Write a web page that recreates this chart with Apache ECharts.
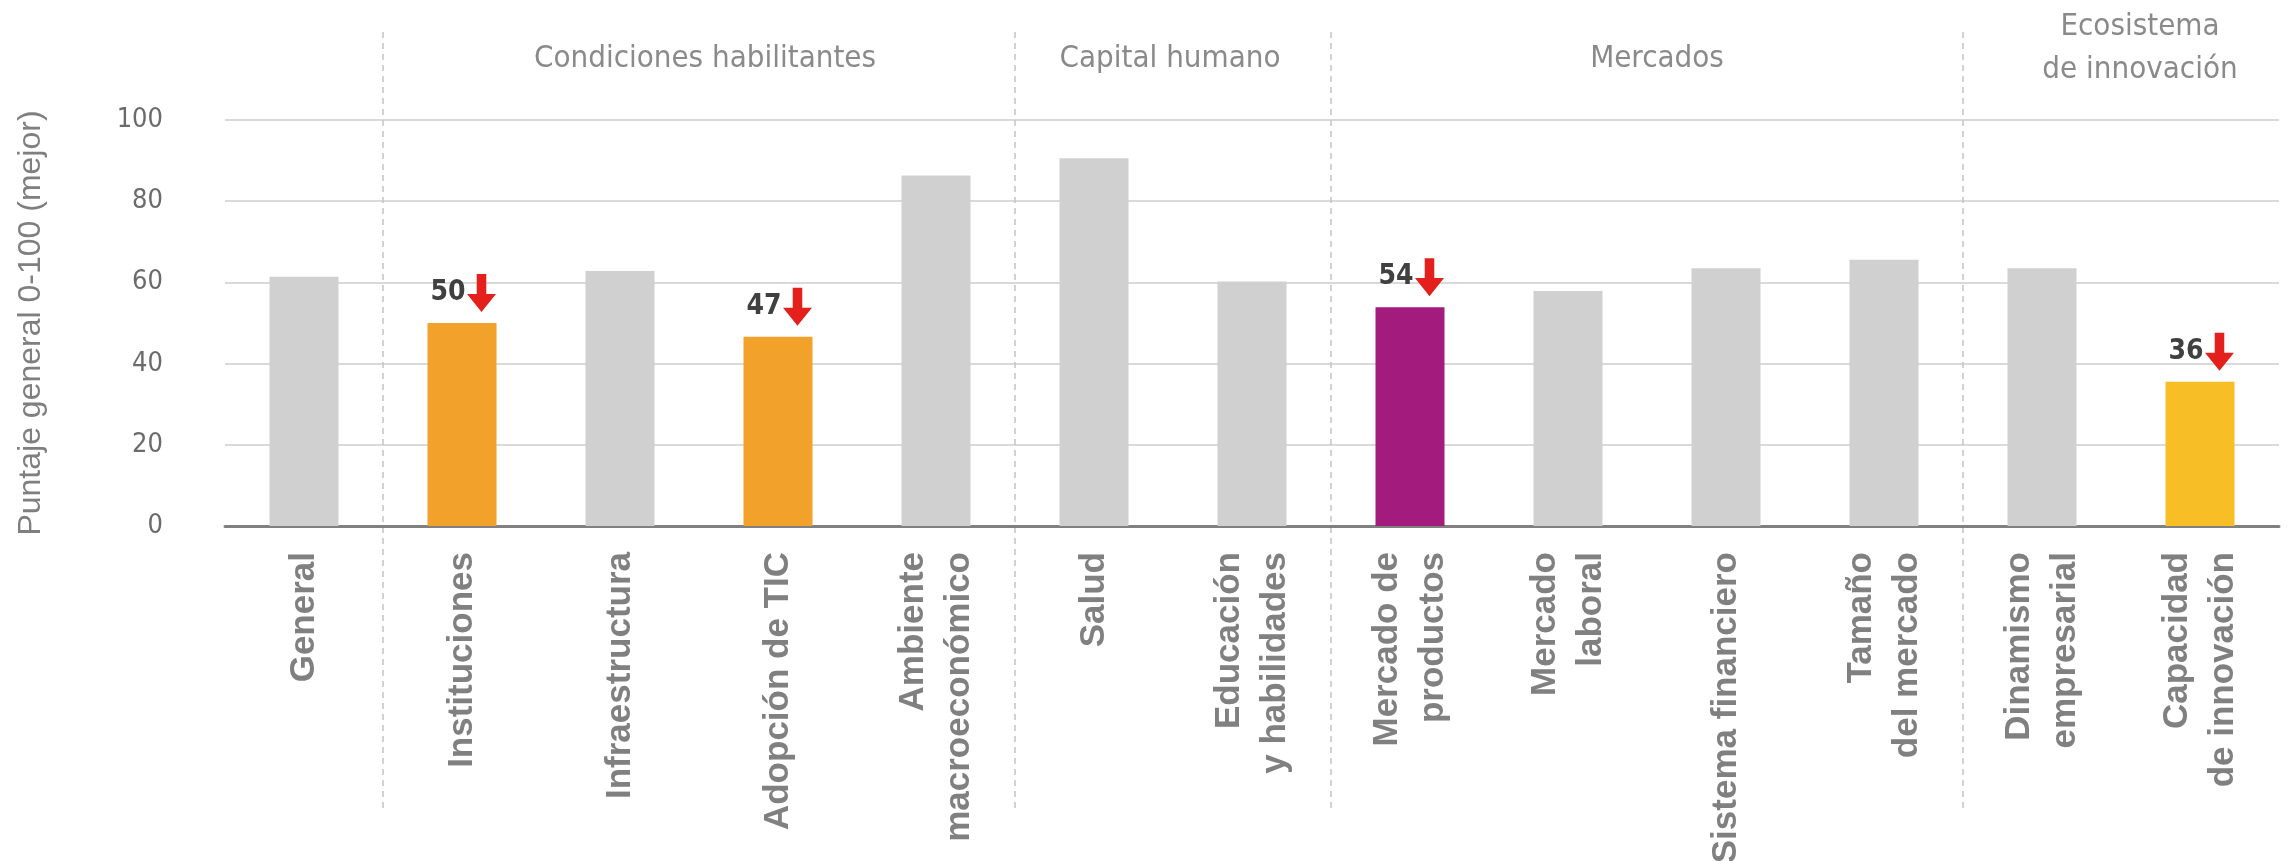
<!DOCTYPE html>
<html>
<head>
<meta charset="utf-8">
<script src="https://cdn.jsdelivr.net/npm/echarts@6/dist/echarts.min.js"></script>
<style>
html,body{margin:0;padding:0;background:#fff;}
#chart{width:2289px;height:861px;}
</style>
</head>
<body>
<div id="chart"></div>
<script>
// ---- data ----
const categories = ['General', 'Instituciones', 'Infraestructura', 'Adopción de TIC', 'Ambiente\nmacroeconómico',
  'Salud', 'Educación\ny habilidades', 'Mercado de\nproductos', 'Mercado\nlaboral', 'Sistema financiero',
  'Tamaño\ndel mercado', 'Dinamismo\nempresarial', 'Capacidad\nde innovación'];
const scores = [61.4, 50, 62.8, 46.6, 86.3, 90.6, 60.2, 53.9, 57.9, 63.5, 65.6, 63.5, 35.5];
const flagged = ['Instituciones', 'Adopción de TIC', 'Mercado de\nproductos', 'Capacidad\nde innovación'];
const groupNames = ['Condiciones habilitantes', 'Capital humano', 'Mercados', 'Ecosistema\nde innovación'];
const groupFirst = ['Instituciones', 'Salud', 'Mercado de\nproductos', 'Dinamismo\nempresarial'];
const groupLast = ['Ambiente\nmacroeconómico', 'Educación\ny habilidades', 'Tamaño\ndel mercado', 'Capacidad\nde innovación'];
const yTicks = [0, 20, 40, 60, 80, 100];

// ---- styles ----
const greyBar = '#d0d0d0';
const flagColors = {
  'Instituciones': '#f2a12a',
  'Adopción de TIC': '#f2a12a',
  'Mercado de\nproductos': '#a21b7d',
  'Capacidad\nde innovación': '#f7be25'
};
const narrow = "'Liberation Sans Narrow', 'DejaVu Sans Condensed', sans-serif";
const groupOffsets = [6, -3, 10, 19];

const chart = echarts.init(document.getElementById('chart'), null, {renderer: 'canvas'});

const barData = categories.map((c, i) => {
  const item = {value: scores[i], itemStyle: {color: flagColors[c] || greyBar}};
  if (flagged.includes(c)) {
    item.label = {
      show: true, position: 'top', distance: 16, offset: [-14, 0],
      formatter: p => String(Math.round(p.value)),
      fontFamily: narrow, fontWeight: 'bold', fontSize: 28, color: '#404040'
    };
  }
  return item;
});
const arrowData = categories.map((c, i) => flagged.includes(c) ? scores[i] : '-');

const option = {
  animation: false,
  backgroundColor: '#ffffff',
  grid: {left: 225, right: 10, top: 120, bottom: 335, containLabel: false, outerBoundsMode: 'none'},
  xAxis: {
    type: 'category',
    data: categories,
    axisLine: {lineStyle: {color: '#808080', width: 3}},
    axisTick: {show: false},
    axisLabel: {
      interval: 0, rotate: 90, margin: 26,
      fontFamily: "'Liberation Sans', Arial, sans-serif", fontWeight: 'bold', fontSize: 35,
      color: '#808080', lineHeight: 46
    }
  },
  yAxis: {
    type: 'value', min: 0, max: 100, interval: 20,
    name: 'Puntaje general 0-100 (mejor)',
    nameLocation: 'middle', nameGap: 178,
    nameTextStyle: {fontFamily: "'Liberation Sans', Arial, sans-serif", fontSize: 32, color: '#7f7f7f'},
    axisLine: {show: false},
    axisTick: {show: false},
    axisLabel: {margin: 62, fontFamily: narrow, fontSize: 27, color: '#6b6b6b',
      formatter: v => yTicks.includes(v) ? String(v) : ''},
    splitLine: {lineStyle: {color: '#d9d9d9', width: 2}}
  },
  series: [
    {
      type: 'bar', data: barData, barWidth: 69, z: 2
    },
    {
      type: 'scatter', data: arrowData, z: 5,
      symbol: 'path://M3.35,0 L6.65,0 L6.65,10.5 L10,10.5 L5,20 L0,10.5 L3.35,10.5 Z',
      symbolSize: [29, 38], symbolOffset: [19.5, -30],
      itemStyle: {color: '#e3201b', opacity: 1}
    }
  ]
};
chart.setOption(option);

// ---- separators and group headings computed from the axis ----
const px = c => chart.convertToPixel({xAxisIndex: 0}, c);
const band = px(categories[1]) - px(categories[0]);
const graphics = [];
groupFirst.forEach((first, gi) => {
  const x = px(first) - band / 2;
  graphics.push({
    type: 'line', z: 0, silent: true,
    shape: {x1: x, y1: 32, x2: x, y2: 808},
    style: {stroke: '#c4c4c4', lineWidth: 1.5, lineDash: [6, 5]}
  });
  const cx = (px(first) + px(groupLast[gi])) / 2 + groupOffsets[gi];
  const twoLine = groupNames[gi].includes('\n');
  graphics.push({
    type: 'text', z: 3, silent: true,
    x: cx, y: twoLine ? 48 : 59,
    style: {
      text: groupNames[gi], fill: '#8a8a8a', font: '31px ' + narrow,
      align: 'center', verticalAlign: 'middle', lineHeight: 43
    }
  });
});
chart.setOption({graphic: graphics});
</script>
</body>
</html>
